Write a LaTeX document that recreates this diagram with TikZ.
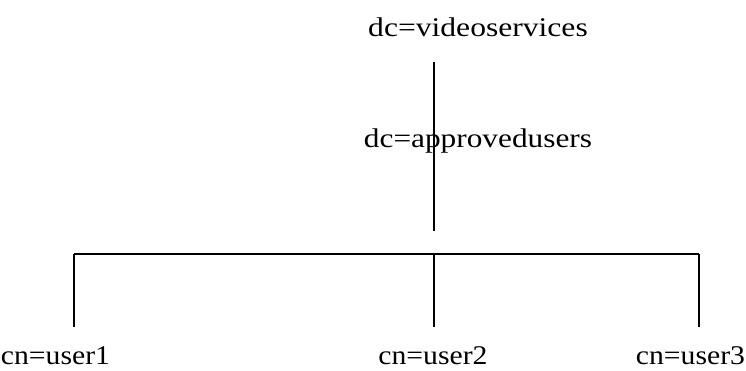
\documentclass[tikz,border=0pt]{standalone}
\usepackage{fontspec}
\setmainfont{Liberation Serif}
\newcommand{\lbl}[2]{\scalebox{#1}[1]{#2}}
\tikzset{
  lab/.style={anchor=base, inner sep=0pt, font=\fontsize{27}{30}\selectfont},
  conn/.style={draw=black, line width=1.1pt}
}
\begin{document}
\begin{tikzpicture}[x=1pt,y=-1pt]
\useasboundingbox (0,0) rectangle (746,371);
\node[lab] (root) at (478,37) {\lbl{1.17}{dc=videoservices}};
\node[lab] (appr) at (478,148) {\lbl{1.16}{dc=approvedusers}};
\node[lab] (u1) at (55.5,364) {\lbl{1.1}{cn=user1}};
\node[lab] (u2) at (433,364) {\lbl{1.1}{cn=user2}};
\node[lab] (u3) at (690.5,364) {\lbl{1.1}{cn=user3}};
\coordinate (t0) at (434,62);
\coordinate (t1) at (434,231);
\coordinate (hl) at (74,254);
\coordinate (hm) at (434,254);
\coordinate (hr) at (699,254);
\coordinate (b1) at (74,327);
\coordinate (b2) at (434,327);
\coordinate (b3) at (699,327);
\draw[conn] (t0) -- (t1);
\draw[conn] (hl) -- (hr);
\draw[conn] (hl) -- (b1);
\draw[conn] (hm) -- (b2);
\draw[conn] (hr) -- (b3);
\end{tikzpicture}
\end{document}
